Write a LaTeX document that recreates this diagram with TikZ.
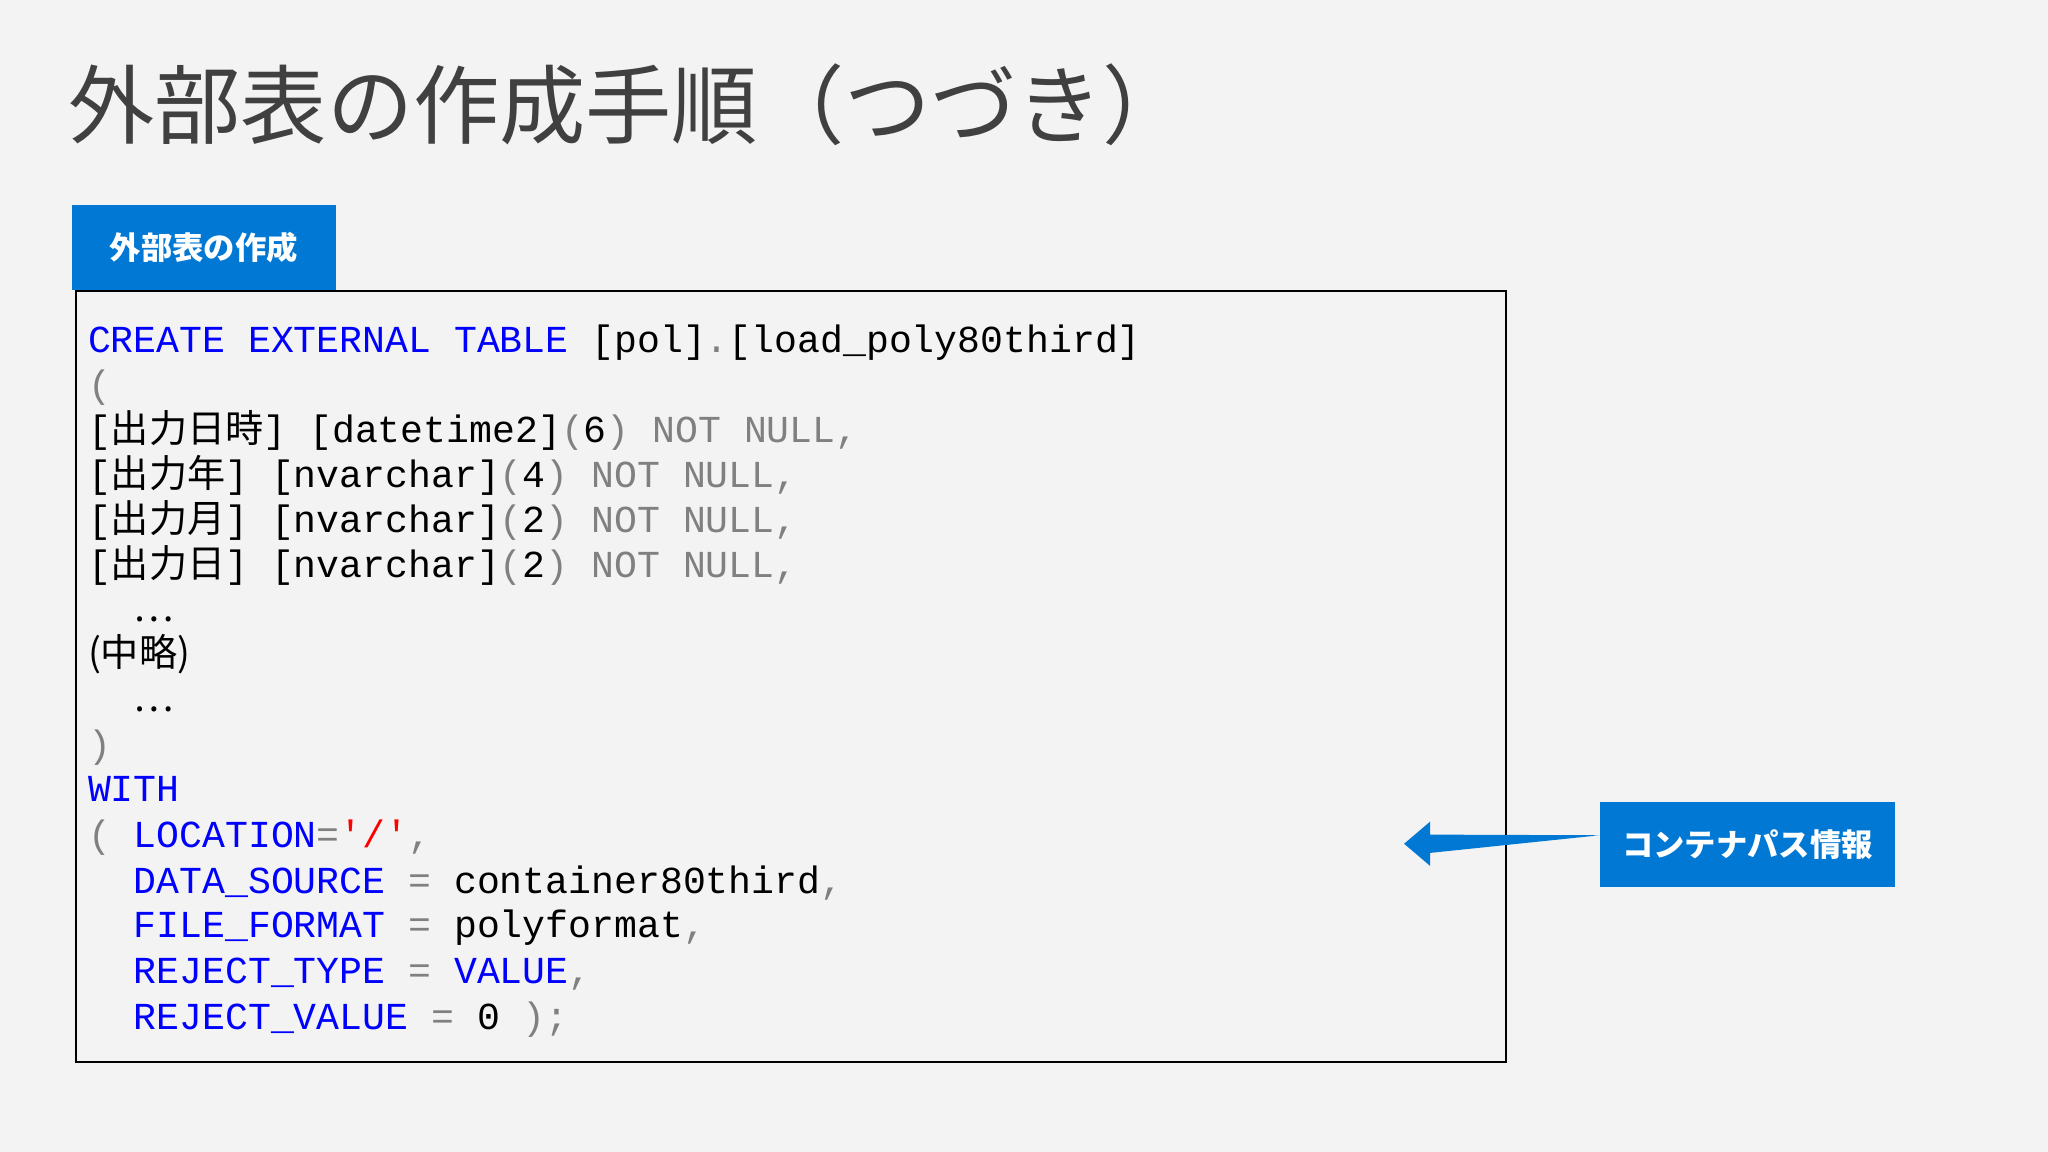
\documentclass[tikz,border=0pt]{standalone}
\usepackage{fontspec}
\setmonofont{Liberation Mono}
\newfontfamily\cjk{Noto Sans CJK JP}
\definecolor{bg}{HTML}{F3F3F3}
\definecolor{accent}{HTML}{0078D4}
\definecolor{kw}{HTML}{0000FF}
\definecolor{gr}{HTML}{808080}
\definecolor{ttl}{HTML}{404040}
\newcommand{\kw}[1]{\textcolor{kw}{#1}}
\newcommand{\gr}[1]{\textcolor{gr}{#1}}
\newcommand{\jp}[1]{{\cjk #1}}
\tikzset{code/.style={anchor=base west,inner sep=0pt,font=\ttfamily\fontsize{14.6}{16}\selectfont},
 tag/.style={fill=accent,text=white,font=\cjk\bfseries\fontsize{12}{14}\selectfont,inner sep=0pt}}
\begin{document}
\begin{tikzpicture}[x=0.5pt,y=-0.5pt]
\fill[bg] (0,0) rectangle (1568,882);
\node[anchor=base west,inner sep=0pt,text=ttl,font=\cjk\fontsize{33}{36}\selectfont] (title) at (52,105) {外部表の作成手順（つづき）};
\node[tag,minimum width=101pt,minimum height=32.5pt] (lab) at (156,189.5) {外部表の作成};
\draw[black,line width=0.6pt] (58,223) rectangle (1153,813);
\node[code] (l1) at (67,270) {\kw{CREATE EXTERNAL TABLE} [pol]\gr{.}[load\_poly80third]};
\node[code] (l2) at (67,304) {\gr{(}};
\node[code] (l3) at (67,339) {[\jp{出力日時}] [datetime2]\gr{(}6\gr{) NOT NULL,}};
\node[code] (l4) at (67,373) {[\jp{出力年}] [nvarchar]\gr{(}4\gr{) NOT NULL,}};
\node[code] (l5) at (67,408) {[\jp{出力月}] [nvarchar]\gr{(}2\gr{) NOT NULL,}};
\node[code] (l6) at (67,442) {[\jp{出力日}] [nvarchar]\gr{(}2\gr{) NOT NULL,}};
\node[code] (l7) at (67,476) {\ \ \jp{…}};
\node[code] (l8) at (67,510) {\jp{(中略)}};
\node[code] (l9) at (67,545) {\ \ \jp{…}};
\node[code] (l10) at (67,580) {\gr{)}};
\node[code] (l11) at (67,614) {\kw{WITH}};
\node[code] (l12) at (67,649) {\gr{(} \kw{LOCATION}\gr{=}\textcolor{red}{'/'}\gr{,}};
\node[code] (l13) at (67,684) {\ \ \kw{DATA\_SOURCE} \gr{=} container80third\gr{,}};
\node[code] (l14) at (67,718) {\ \ \kw{FILE\_FORMAT} \gr{=} polyformat\gr{,}};
\node[code] (l15) at (67,753) {\ \ \kw{REJECT\_TYPE} \gr{=} \kw{VALUE}\gr{,}};
\node[code] (l16) at (67,788) {\ \ \kw{REJECT\_VALUE} \gr{=} 0 \gr{);}};
\node[tag,minimum width=113pt,minimum height=32.5pt] (info) at (1338,646.5) {コンテナパス情報};
\coordinate (tip) at (1075,646);
\fill[accent] (info.west) ++(0,-7) -- (1095,639) -- (1095,629) -- (tip) -- (1095,663) -- (1095,653) -- ([yshift=3.5pt]info.west) -- cycle;
\end{tikzpicture}
\end{document}
